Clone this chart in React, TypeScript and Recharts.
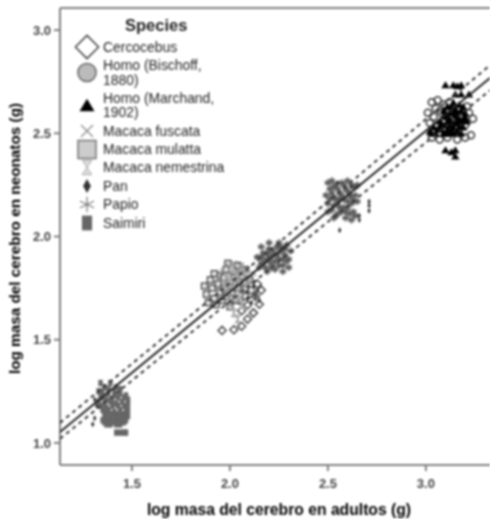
import React from 'react';
import {
  ComposedChart,
  Scatter,
  XAxis,
  YAxis,
  ReferenceLine,
  Legend,
} from 'recharts';

type Pt = [number, number];

const xTicks = [1.5, 2.0, 2.5, 3.0];
const yTicks = [1.0, 1.5, 2.0, 2.5, 3.0];
const xDomain = [1.133, 3.327];
const yDomain = [0.893, 3.107];

const fitLine: Pt[] = [[1.133, 1.053], [3.327, 2.768]];
const upperBand: Pt[] = [[1.133, 1.097], [2.2, 1.93], [3.327, 2.83]];
const lowerBand: Pt[] = [[1.133, 1.02], [2.2, 1.84], [3.327, 2.708]];

const cercocebus: Pt[] = [
  [1.96, 1.545], [2.02, 1.548], [2.06, 1.565], [2.09, 1.6], [2.12, 1.63], [2.15, 1.672], [2.09, 1.668], [2.06, 1.64],
  [2.13, 1.71], [2.16, 1.74], [2.1, 1.72], [2.05, 1.69], [2.01, 1.7], [2.14, 1.77], [2.08, 1.75], [1.98, 1.69],
];
const homoBischoff: Pt[] = [
  [3.03, 2.48], [3.07, 2.47], [3.11, 2.48], [3.16, 2.47], [3.2, 2.48], [3.23, 2.49], [3.01, 2.6], [3.03, 2.65],
  [3.06, 2.66], [3.09, 2.64], [3.04, 2.58], [3.08, 2.6], [3.12, 2.65], [3.22, 2.6], [3.24, 2.57], [3.2, 2.54],
  [3.02, 2.55], [3.06, 2.54], [3.11, 2.6], [3.16, 2.62], [3.05, 2.62], [3.21, 2.63],
];
const homoMarchand: Pt[] = [
  [3.1, 2.735], [3.14, 2.735], [3.16, 2.73], [3.18, 2.735], [3.15, 2.69], [3.18, 2.69], [3.22, 2.69],
  [3.1, 2.42], [3.13, 2.41], [3.15, 2.39], [3.15, 2.42],
  [3.02, 2.51], [3.05, 2.5], [3.08, 2.52], [3.1, 2.54], [3.12, 2.5], [3.14, 2.53], [3.16, 2.51], [3.19, 2.53],
  [3.04, 2.53], [3.07, 2.56], [3.1, 2.58], [3.13, 2.56], [3.16, 2.55], [3.19, 2.57], [3.21, 2.56],
  [3.09, 2.61], [3.12, 2.6], [3.15, 2.59], [3.18, 2.61], [3.2, 2.6], [3.13, 2.63], [3.17, 2.64], [3.11, 2.52], [3.17, 2.57],
  [3.03, 2.5], [3.06, 2.52], [3.09, 2.5], [3.11, 2.56], [3.13, 2.52], [3.15, 2.55], [3.17, 2.53], [3.18, 2.5],
  [3.08, 2.55], [3.1, 2.6], [3.12, 2.57], [3.14, 2.6], [3.16, 2.58], [3.18, 2.56], [3.2, 2.58], [3.14, 2.65],
  [3.11, 2.63], [3.15, 2.62], [3.19, 2.63], [3.07, 2.53], [3.12, 2.54], [3.16, 2.6], [3.1, 2.5], [3.14, 2.5],
];
const macacaFuscata: Pt[] = [
  [1.98, 1.86], [2.02, 1.87], [2.06, 1.86], [2.09, 1.84], [2.12, 1.82], [1.96, 1.83], [2.0, 1.82], [2.04, 1.83],
  [2.08, 1.8], [1.94, 1.8], [1.98, 1.78], [2.03, 1.79], [2.07, 1.76], [2.11, 1.78], [2.0, 1.75], [2.05, 1.74],
];
const macacaMulatta: Pt[] = [
  [1.87, 1.76], [1.88, 1.72], [1.9, 1.79], [1.91, 1.75], [1.92, 1.7], [1.94, 1.77], [1.95, 1.73], [1.93, 1.67],
  [1.96, 1.69], [1.97, 1.75], [1.98, 1.71], [2.0, 1.66], [2.01, 1.73], [2.03, 1.69], [1.89, 1.68], [1.95, 1.81],
  [1.98, 1.84], [2.02, 1.8], [2.05, 1.77], [2.08, 1.71], [1.92, 1.82], [2.11, 1.74], [1.99, 1.87], [2.04, 1.86],
  [2.08, 1.84], [2.0, 1.78], [2.06, 1.81], [2.1, 1.79], [2.04, 1.75], [1.97, 1.8],
];
const macacaNemestrina: Pt[] = [
  [1.98, 1.8], [2.01, 1.84], [2.04, 1.8], [2.07, 1.83], [2.02, 1.77], [2.05, 1.72], [1.99, 1.73], [2.03, 1.7],
  [2.0, 1.68], [2.06, 1.67], [2.02, 1.63], [2.04, 1.6], [2.09, 1.78], [1.97, 1.77], [2.0, 1.78], [2.05, 1.85],
  [2.03, 1.82], [2.08, 1.81],
];
const pan: Pt[] = [
  [2.71, 2.17], [2.71, 2.15], [2.71, 2.125], [2.66, 2.1], [2.66, 2.08], [2.56, 2.03], [1.32, 1.18], [1.31, 1.21],
  [1.3, 1.09], [1.31, 1.12], [2.62, 2.24], [2.55, 2.26], [2.13, 1.71], [2.15, 1.69], [2.11, 1.68], [2.14, 1.74],
  [2.09, 1.7], [2.12, 1.76],
];
const papio: Pt[] = [
  [2.14, 1.9], [2.16, 1.87], [2.17, 1.92], [2.18, 1.85], [2.19, 1.89], [2.2, 1.94], [2.21, 1.87], [2.22, 1.91],
  [2.23, 1.84], [2.24, 1.95], [2.25, 1.89], [2.26, 1.93], [2.27, 1.86], [2.28, 1.91], [2.29, 1.96], [2.3, 1.89],
  [2.31, 1.93], [2.24, 1.91], [2.2, 1.9], [2.27, 1.89], [2.23, 1.88], [2.26, 1.95], [2.18, 1.88], [2.22, 1.93],
  [2.25, 1.86], [2.29, 1.88], [2.21, 1.85], [2.16, 1.9], [2.28, 1.94], [2.19, 1.92], [2.16, 1.95], [2.2, 1.97],
  [2.25, 1.97], [2.3, 1.85], [2.27, 1.83], [2.15, 1.85], [2.19, 1.83],
  [2.49, 2.2], [2.5, 2.16], [2.51, 2.23], [2.52, 2.13], [2.53, 2.19], [2.54, 2.25], [2.54, 2.1], [2.55, 2.16],
  [2.56, 2.21], [2.57, 2.12], [2.57, 2.26], [2.58, 2.18], [2.59, 2.23], [2.59, 2.09], [2.6, 2.14], [2.61, 2.2],
  [2.62, 2.16], [2.62, 2.25], [2.63, 2.12], [2.64, 2.2], [2.64, 2.24], [2.65, 2.17], [2.53, 2.15], [2.56, 2.18],
  [2.6, 2.17], [2.58, 2.14], [2.55, 2.23], [2.52, 2.21], [2.54, 2.18], [2.57, 2.2], [2.6, 2.22], [2.62, 2.19],
  [2.56, 2.14], [2.59, 2.12], [2.61, 2.11], [2.53, 2.24], [2.58, 2.25], [2.51, 2.18], [2.63, 2.17], [2.55, 2.11],
  [2.5, 2.26], [2.52, 2.27], [2.6, 2.27], [2.64, 2.1], [2.62, 2.08], [2.5, 2.12], [2.53, 2.09], [2.65, 2.25],
];
const saimiri: Pt[] = [
  [1.34, 1.29], [1.36, 1.27], [1.39, 1.29], [1.42, 1.27], [1.33, 1.25], [1.35, 1.22], [1.38, 1.24], [1.41, 1.23],
  [1.44, 1.24], [1.47, 1.23], [1.33, 1.2], [1.36, 1.19], [1.39, 1.2], [1.42, 1.19], [1.45, 1.2], [1.48, 1.19],
  [1.35, 1.16], [1.38, 1.16], [1.41, 1.15], [1.44, 1.16], [1.47, 1.15], [1.36, 1.13], [1.39, 1.12], [1.42, 1.12],
  [1.45, 1.13], [1.47, 1.11], [1.36, 1.1], [1.39, 1.09], [1.41, 1.1], [1.44, 1.09], [1.46, 1.1], [1.38, 1.15],
  [1.42, 1.05], [1.44, 1.05], [1.46, 1.05], [1.47, 1.05],
  [1.34, 1.23], [1.37, 1.21], [1.4, 1.21], [1.43, 1.22], [1.46, 1.22], [1.48, 1.21], [1.34, 1.18], [1.37, 1.17],
  [1.4, 1.18], [1.43, 1.18], [1.46, 1.18], [1.36, 1.15], [1.4, 1.14], [1.43, 1.14], [1.46, 1.14], [1.48, 1.16],
  [1.37, 1.12], [1.4, 1.11], [1.43, 1.11], [1.46, 1.12], [1.38, 1.1], [1.35, 1.11], [1.42, 1.09], [1.48, 1.13],
  [1.41, 1.25], [1.38, 1.26], [1.44, 1.26], [1.35, 1.25], [1.37, 1.09], [1.45, 1.11],
];

const speciesLabels = [
  ['Cercocebus'],
  ['Homo (Bischoff,', '1880)'],
  ['Homo (Marchand,', '1902)'],
  ['Macaca fuscata'],
  ['Macaca mulatta'],
  ['Macaca nemestrina'],
  ['Pan'],
  ['Papio'],
  ['Saimiri'],
];

const kinds = ['cercocebus', 'bischoff', 'marchand', 'fuscata', 'mulatta', 'nemestrina', 'pan', 'papio', 'saimiri'];

const toRows = (pts: Pt[]) => pts.map(([x, y]) => ({ x, y }));

const Marker = ({ kind, cx, cy, s = 1, legend = false }: any) => {
  const p = (list: number[][]) => list.map(([a, b]) => `${cx + a * s},${cy + b * s}`).join(' ');
  switch (kind) {
    case 'cercocebus':
      return <polygon points={p([[-4, 0], [0, -4], [4, 0], [0, 4]])} fill={legend ? '#fff' : 'none'} stroke="#444" strokeWidth={1.5} />;
    case 'bischoff':
      return <circle cx={cx} cy={cy} r={3.5 * s} fill={legend ? '#bbb' : 'none'} stroke={legend ? '#666' : '#333'} strokeWidth={1.5} />;
    case 'marchand':
      return <polygon points={p([[-3, 2.5], [3, 2.5], [0, -2.5]])} fill="#000" />;
    case 'fuscata':
      return <path d={`M${p([[-2.5, -2.5]])}L${p([[2.5, 2.5]])}M${p([[-2.5, 2.5]])}L${p([[2.5, -2.5]])}`} stroke="#888" strokeWidth={1.2} fill="none" />;
    case 'mulatta':
      return <rect x={cx - 3 * s} y={cy - 3 * s} width={6 * s} height={6 * s} fill={legend ? '#ccc' : '#e0e0e0'} stroke={legend ? '#777' : '#3a3a3a'} strokeWidth={legend ? 1.5 : 1.2} />;
    case 'nemestrina':
      return <polygon points={p([[-2, -3], [2, -3], [-2, 3], [2, 3]])} fill={legend ? '#ddd' : '#b4b4b4'} stroke={legend ? '#aaa' : '#a0a0a0'} strokeWidth={1} />;
    case 'pan':
      return <polygon points={p([[-1.7, 0], [0, -3], [1.7, 0], [0, 3]])} fill="#333" />;
    case 'papio':
      return (
        <path
          d={`M${p([[0, -3.5]])}L${p([[0, 3.5]])}M${p([[-3.2, -1.5]])}L${p([[3.2, 1.5]])}M${p([[-3.2, 1.5]])}L${p([[3.2, -1.5]])}`}
          stroke="#5a5a5a"
          strokeWidth={legend ? 1 : 1.7}
          fill="none"
        />
      );
    default:
      return <rect x={cx - 2.2 * s} y={cy - 3.2 * s} width={4.4 * s} height={6.4 * s} fill="#666" />;
  }
};

const shapeFor = (kind: string, s = 1) => (props: any) => <Marker kind={kind} cx={props.cx} cy={props.cy} s={s} />;

const rowTops = [47, 72.5, 105, 131, 149.5, 167.5, 186, 204.5, 223];
const legendScale = [2.9, 2.6, 2.5, 2.4, 3, 2.4, 2.3, 2.2, 2.3];

const SpeciesLegend = () => (
  <div style={{ position: 'relative', width: 0, height: 0 }}>
    <svg width={120} height={240} style={{ position: 'absolute', left: 60, top: 0 }}>
      {kinds.map((k, i) => (
        <Marker key={k} kind={k} cx={27} cy={rowTops[i]} s={legendScale[i]} legend />
      ))}
    </svg>
    <div style={{ position: 'absolute', left: 125, top: 16, fontSize: 16.5, fontWeight: 700, color: '#222', whiteSpace: 'nowrap' }}>Species</div>
    {speciesLabels.map((lines, i) => (
      <div
        key={lines[0]}
        style={{
          position: 'absolute',
          left: 103,
          top: rowTops[i] - (lines.length * 14.5) / 2,
          fontSize: 13.9,
          lineHeight: '14.5px',
          color: '#222',
          whiteSpace: 'nowrap',
        }}
      >
        {lines.map((l) => <div key={l}>{l}</div>)}
      </div>
    ))}
  </div>
);

const axisColor = '#808080';
const tickStyle = { fill: '#444', fontSize: 13, fontWeight: 700 };

export default function App() {
  return (
    <div style={{ position: 'absolute', left: 0, top: 0, width: 490, height: 519, overflow: 'hidden', fontFamily: '"Liberation Sans", Arial, sans-serif', filter: 'blur(0.8px)' }}>
      <ComposedChart width={490} height={519} margin={{ top: 8, right: 0, bottom: 0, left: 0 }}>
        <XAxis
          type="number"
          dataKey="x"
          domain={xDomain}
          ticks={xTicks}
          allowDataOverflow
          height={54}
          stroke={axisColor}
          strokeWidth={2}
          tickSize={6}
          tickMargin={8}
          tick={tickStyle}
          tickFormatter={(v: number) => v.toFixed(1)}
          label={{ value: 'log masa del cerebro en adultos (g)', position: 'insideBottom', offset: 4, dx: 4, style: { fill: '#000', fontSize: 15.7, fontWeight: 700 } }}
        />
        <YAxis
          type="number"
          dataKey="y"
          domain={yDomain}
          ticks={yTicks}
          allowDataOverflow
          width={60}
          stroke={axisColor}
          strokeWidth={2}
          tickSize={6}
          tickMargin={3}
          tick={tickStyle}
          tickFormatter={(v: number) => v.toFixed(1)}
          label={{ value: 'log masa del cerebro en neonatos (g)', angle: -90, position: 'insideLeft', offset: 15, dy: 2, style: { fill: '#000', fontSize: 15.3, fontWeight: 700, textAnchor: 'middle' } }}
        />
        <ReferenceLine y={yDomain[1]} stroke={axisColor} strokeWidth={2} />
        <Scatter name="Cercocebus" data={toRows(cercocebus)} shape={shapeFor('cercocebus')} isAnimationActive={false} />
        <Scatter name="Macaca mulatta" data={toRows(macacaMulatta)} shape={shapeFor('mulatta')} isAnimationActive={false} />
        <Scatter name="Macaca nemestrina" data={toRows(macacaNemestrina)} shape={shapeFor('nemestrina', 1.3)} isAnimationActive={false} />
        <Scatter name="Macaca fuscata" data={toRows(macacaFuscata)} shape={shapeFor('fuscata')} isAnimationActive={false} />
        <Scatter name="Papio" data={toRows(papio)} shape={shapeFor('papio')} isAnimationActive={false} />
        <Scatter name="Pan" data={toRows(pan)} shape={shapeFor('pan')} isAnimationActive={false} />
        <Scatter name="Saimiri" data={toRows(saimiri)} shape={shapeFor('saimiri')} isAnimationActive={false} />
        <Scatter name="Homo (Bischoff, 1880)" data={toRows(homoBischoff)} shape={shapeFor('bischoff')} isAnimationActive={false} />
        <Scatter name="Homo (Marchand, 1902)" data={toRows(homoMarchand)} shape={shapeFor('marchand', 1.4)} isAnimationActive={false} />
        <Scatter data={toRows(upperBand)} line={{ stroke: '#333', strokeWidth: 2, strokeDasharray: '4 4' }} shape={() => null} legendType="none" isAnimationActive={false} />
        <Scatter data={toRows(lowerBand)} line={{ stroke: '#333', strokeWidth: 2, strokeDasharray: '4 4' }} shape={() => null} legendType="none" isAnimationActive={false} />
        <Scatter data={toRows(fitLine)} line={{ stroke: '#222', strokeWidth: 2 }} shape={() => null} legendType="none" isAnimationActive={false} />
        <Legend
          layout="vertical"
          align="center"
          verticalAlign="middle"
          wrapperStyle={{ left: 0, top: 0, width: 0, height: 0 }}
          content={() => <SpeciesLegend />}
        />
      </ComposedChart>
    </div>
  );
}
